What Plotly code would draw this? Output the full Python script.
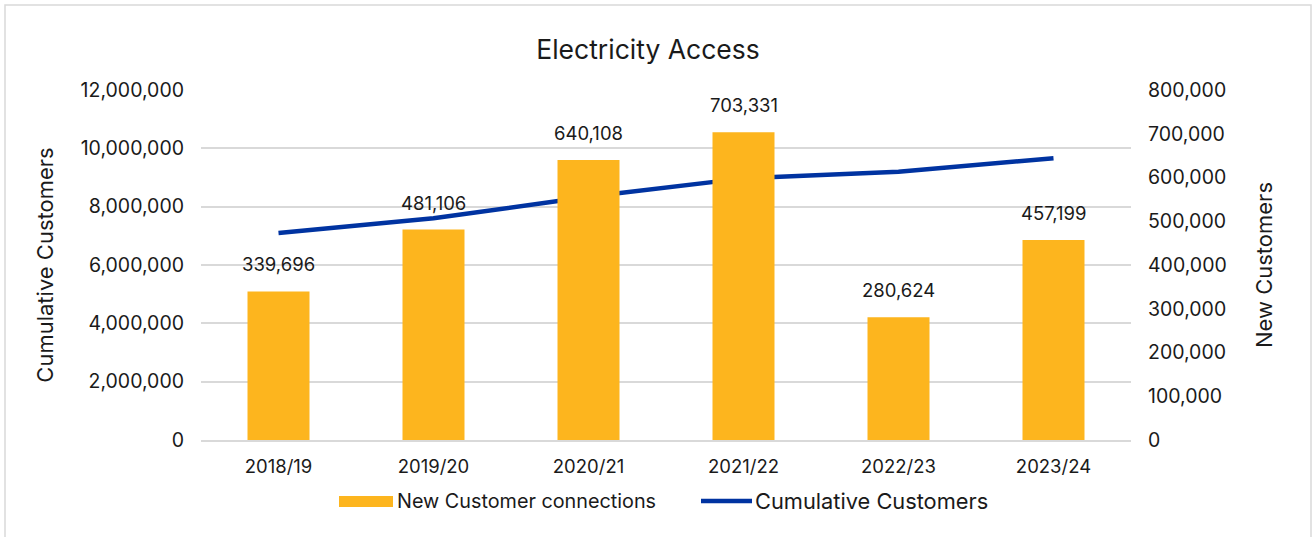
import plotly.graph_objects as go

# Financial years
years = ["2018/19", "2019/20", "2020/21", "2021/22", "2022/23", "2023/24"]
# New customer connections per year (right axis)
new_connections = [339696, 481106, 640108, 703331, 280624, 457199]
# Cumulative customers (left axis)
cumulative = [7100000, 7600000, 8340000, 8970000, 9200000, 9660000]

# Axis tick values
left_ticks = [0, 2000000, 4000000, 6000000, 8000000, 10000000, 12000000]
right_ticks = [0, 100000, 200000, 300000, 400000, 500000, 600000, 700000, 800000]

BAR = "#FDB51E"
LINE = "#0033A1"
FONT = "Inter, Roboto, sans-serif"
TXT = "#1a1a1a"
GRID = "#D9D9D9"

# plot area in pixels
L, R, T, B = 201, 1131, 90, 440
PW, PH = R - L, B - T


def px(x):
    return (x - L) / PW


def py(y):
    return (B - y) / PH


fig = go.Figure()

fig.add_trace(go.Bar(
    x=years, y=new_connections, name="New Customer connections",
    marker=dict(color=BAR, line=dict(width=0)), width=0.4, yaxis="y2",
))
fig.add_trace(go.Scatter(
    x=years, y=cumulative, name="Cumulative Customers", mode="lines",
    line=dict(color=LINE, width=4.5), yaxis="y",
))

# value labels above bars
for yr, v in zip(years, new_connections):
    fig.add_annotation(
        x=yr, y=v, xref="x", yref="y2", text=f"{v:,}", showarrow=False,
        yanchor="middle", yshift=27, font=dict(family=FONT, size=18.5, color=TXT),
    )

# legend drawn below the axis
fig.add_shape(type="rect", xref="paper", yref="paper",
              x0=px(339), x1=px(393), y0=py(507), y1=py(496),
              line=dict(width=0), fillcolor=BAR)
fig.add_annotation(xref="paper", yref="paper", x=px(395), y=py(501),
                   xanchor="left", yanchor="middle", showarrow=False,
                   text="New Customer connections",
                   font=dict(family=FONT, size=19.8, color=TXT))
fig.add_shape(type="line", xref="paper", yref="paper",
              x0=px(701), x1=px(752), y0=py(501), y1=py(501),
              line=dict(color=LINE, width=4.5))
fig.add_annotation(xref="paper", yref="paper", x=px(753), y=py(501),
                   xanchor="left", yanchor="middle", showarrow=False,
                   text="Cumulative Customers",
                   font=dict(family=FONT, size=21.8, color=TXT))

# outer chart border
fig.add_shape(type="rect", xref="paper", yref="paper",
              x0=px(5), x1=px(1311), y0=py(560), y1=py(5),
              line=dict(color=GRID, width=1.5), fillcolor="rgba(0,0,0,0)")

fig.update_layout(
    width=1314, height=537,
    margin=dict(l=L, r=1314 - R, t=T, b=537 - B),
    paper_bgcolor="white", plot_bgcolor="white",
    font=dict(family=FONT, size=19, color=TXT),
    title=dict(text="Electricity Access", x=648 / 1314, xanchor="center",
               y=1 - 50 / 537, yanchor="middle",
               font=dict(family=FONT, size=26.5, color=TXT)),
    showlegend=False,
    xaxis=dict(
        type="category", showgrid=False, showline=True, linecolor=GRID, linewidth=2,
        ticks="", tickfont=dict(family=FONT, size=18.5, color=TXT), ticklabelstandoff=9,
    ),
    yaxis=dict(
        range=[0, 12000000], tickvals=left_ticks, tickformat=",d",
        showgrid=True, gridcolor=GRID, gridwidth=1.5, zeroline=False,
        tickfont=dict(family=FONT, size=19.5, color=TXT), ticklabelstandoff=16,
        title=dict(text="Cumulative Customers", font=dict(family=FONT, size=22, color=TXT),
                   standoff=20),
    ),
    yaxis2=dict(
        range=[0, 800000], tickvals=right_ticks, tickformat=",d", overlaying="y",
        side="right", showgrid=False, zeroline=False,
        tickfont=dict(family=FONT, size=19.5, color=TXT), ticklabelstandoff=16,
        title=dict(text="New Customers", font=dict(family=FONT, size=22, color=TXT),
                   standoff=30),
    ),
)

fig.write_html("out.html")
